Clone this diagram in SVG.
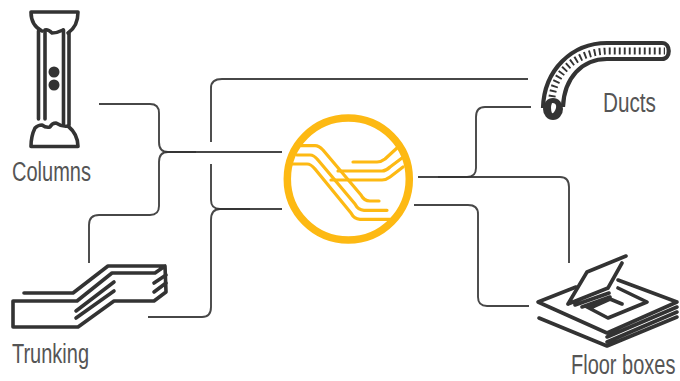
<svg xmlns="http://www.w3.org/2000/svg" width="680" height="381" viewBox="0 0 680 381">
<style>
.i{fill:none;stroke:#333;stroke-width:3.600;stroke-linecap:round;stroke-linejoin:round}
.c{fill:none;stroke:#333;stroke-opacity:.9;stroke-width:1.900}
.y{fill:none;stroke:#fdb913;stroke-width:3.200;stroke-linecap:round;stroke-linejoin:round}
.t{font-family:"Liberation Sans",Arial,sans-serif;font-size:27px;fill:#555}
</style>
<rect width="680" height="381" fill="#fff"/>
<g id="connectors">
<path class="c" d="M99 104H150Q159 104 159 113V142Q159 152 168 152H282"/>
<path class="c" d="M89 263V225Q89 215 99 215H150Q159 215 159 206V162Q159 152 168 152H196"/>
<path class="c" d="M211 142V88Q211 79 222 79H528"/>
<path class="c" d="M211 164V200Q211 209 220 209H282"/>
<path class="c" d="M148 317H202Q211 317 211 307V220Q211 209 220 209H250"/>
<path class="c" d="M418 177H467Q476 177 476 168V117Q476 107 485 107H531"/>
<path class="c" d="M438 177H560Q569 177 569 187V263"/>
<path class="c" d="M414 205H468Q478 205 478 214V297Q478 306 487 306H529"/>
</g>
<g id="columns">
<path class="i" d="M31 12H78C78 22 74 29 68 33M31 12C31 22 36 28 42 31M45 30Q48 29 52 33Q57 33 63 30"/>
<path class="i" d="M38.500 31V119M45 31V119M63.500 30V124M69 33V125"/>
<path class="i" d="M35 128Q38 125 42 125Q46 128 50 127Q52 123 56 123Q62 127 68 126C74 131 78 138 78 146.500H31C31 138 33 132 35 128Z"/>
<circle cx="54" cy="72" r="5.500" fill="#333"/><circle cx="54" cy="85" r="5.500" fill="#333"/>
<text class="t" x="12" y="181" textLength="79" lengthAdjust="spacingAndGlyphs">Columns</text>
</g>
<g id="trunking">
<path class="i" d="M24 293H73L108 266H165L166 292L154 301H114L78 327H13V301H77L112 273H155L165 266"/>
<path class="i" d="M76 311L114 282M76 318L114 291M154 283L166 275M154 292L166 283"/>
<text class="t" x="12" y="363" textLength="77" lengthAdjust="spacingAndGlyphs">Trunking</text>
</g>
<g id="hub">
<circle cx="348.300" cy="179" r="61" fill="none" stroke="#fdb913" stroke-width="7.500"/>
<path class="y" d="M301 145.700H315Q319 145.700 323 150L361 195Q364 201 370 201H379"/>
<path class="y" d="M297 155H310Q314 155 318 160L355 204Q358 210 364 210.300H387"/>
<path class="y" d="M292 164H307Q311 164 315 169L351 213Q354 219 360 219.300H390"/>
<path class="y" d="M353 162H377Q381 162 385 159L397 148"/>
<path class="y" d="M338 171H382Q386 171 390 167L402 158"/>
<path class="y" d="M331 180H382Q386 180 390 177L403 167"/>
</g>
<g id="ducts">
<path fill="none" stroke="#333" stroke-width="4.200" stroke-linejoin="round" d="M543 108C544 70 572 43 607 43H662C671 43 671 59 662 59H607C582 59 564 78 563 107"/>
<path fill="none" stroke="#333" stroke-width="7" stroke-dasharray="1.900 3.100" d="M552 97C556 68 580 51 610 51H665"/>
<ellipse cx="553" cy="109" rx="10" ry="11" fill="#333"/>
<path d="M552 103Q557 103 556 108Q554 114 552 113Q550 108 552 103Z" fill="#fff"/>
<text class="t" x="603" y="112" textLength="53" lengthAdjust="spacingAndGlyphs">Ducts</text>
</g>
<g id="floor-boxes">
<path class="i" d="M576 287L538 302L607 333L677 302L618 280M539 318L607 346M607 337L677 307M607 342L677 312M607 346L677 317"/>
<path class="i" d="M568 304L587 272L626 256M622 263L608 288M568 304L608 288M575 305L609 293M582 307L610 297M590 308L610 299L622 304M587 307L608 318L647 302L618 288"/>
<text class="t" transform="translate(571 374) scale(.74 1)">Floor boxes</text>
</g>
</svg>
